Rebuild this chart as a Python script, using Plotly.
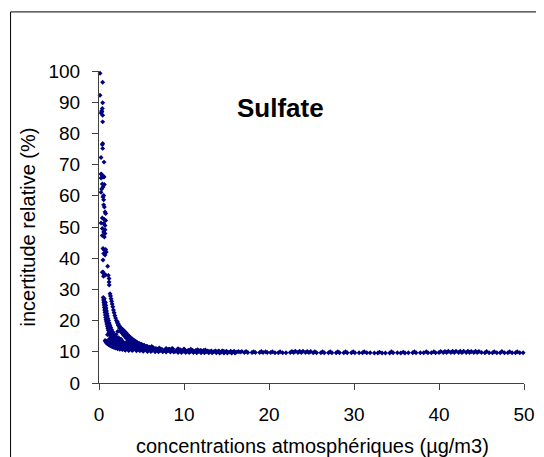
import plotly.graph_objects as go

# ---- data (concentration in µg/m3, relative uncertainty in %) ----
# steep cluster at very low concentrations
low_pts = [(0.12, 99.3), (0.43, 96.4), (0.12, 92.2), (0.43, 89.8), (0.39, 88.0), (0.31, 87.2),
           (0.35, 86.9), (0.24, 86.5), (0.43, 85.8), (0.43, 83.7), (0.43, 76.8), (0.39, 76.4),
           (0.43, 75.2), (0.24, 72.3), (0.59, 70.8), (0.24, 67.0), (0.39, 66.0), (0.59, 66.0),
           (0.31, 66.8), (0.55, 66.2), (0.24, 65.7), (0.39, 63.8), (0.63, 63.6), (0.47, 62.8),
           (0.31, 62.2), (0.24, 61.1), (0.55, 60.1), (0.47, 59.6), (0.55, 58.7), (0.55, 57.1),
           (0.63, 56.4), (0.71, 54.8), (0.78, 54.3), (0.39, 52.9), (0.63, 52.4), (0.78, 52.1),
           (0.24, 51.3), (0.55, 51.1), (0.71, 50.5), (0.39, 49.5), (0.71, 49.1), (0.55, 48.4),
           (0.71, 47.9), (0.39, 47.3), (0.63, 46.8), (0.47, 43.1), (0.63, 42.6), (0.78, 42.8),
           (0.86, 42.0), (0.55, 41.5), (0.71, 41.0), (0.47, 39.4), (1.02, 37.4), (0.47, 35.6),
           (0.39, 35.5), (0.63, 34.9), (0.78, 34.6), (1.10, 34.5), (1.18, 33.5), (1.18, 32.4),
           (1.20, 31.4), (0.53, 34.2)]

# curved branches (several detection limits)
branch_a = [(0.50, 27.4), (0.53, 26.6), (0.56, 25.8), (0.60, 25.0), (0.63, 24.2), (0.66, 23.4),
            (0.70, 22.6), (0.74, 21.8), (0.78, 21.0), (0.82, 20.3), (0.87, 19.6), (0.92, 18.9),
            (0.98, 18.2), (1.04, 17.5), (1.10, 16.9), (1.17, 16.3), (1.25, 15.7), (1.34, 15.1),
            (1.44, 14.6), (1.55, 14.1), (1.67, 13.6), (1.80, 13.2), (1.95, 12.8), (2.10, 12.4),
            (2.28, 12.1), (2.48, 11.8), (2.70, 11.5), (2.95, 11.3), (3.25, 11.1), (3.60, 10.9),
            (4.00, 10.7)]
branch_a2 = [(0.62, 27.0), (0.65, 26.1), (0.68, 25.3), (0.72, 24.5), (0.76, 23.6), (0.80, 22.8),
             (0.85, 22.0), (0.90, 21.2), (0.96, 20.4), (1.02, 19.7), (1.09, 19.0), (1.16, 18.3),
             (1.24, 17.6), (1.33, 16.9), (1.43, 16.3), (1.54, 15.7), (1.66, 15.1), (1.79, 14.6),
             (1.93, 14.1), (2.08, 13.7), (2.25, 13.3), (2.44, 12.9), (2.65, 12.5), (2.88, 12.2),
             (3.14, 11.9), (3.42, 11.6), (3.75, 11.3), (4.10, 11.1), (4.50, 10.9)]
branch_a3 = [(0.75, 25.8), (0.79, 24.9), (0.83, 24.0), (0.88, 23.1), (0.93, 22.3), (0.99, 21.5),
             (1.05, 20.7), (1.12, 20.0), (1.20, 19.2), (1.28, 18.5), (1.38, 17.8), (1.48, 17.1),
             (1.60, 16.4), (1.73, 15.8), (1.87, 15.2), (2.02, 14.6), (2.20, 14.1), (2.40, 13.6),
             (2.62, 13.1), (2.86, 12.7), (3.12, 12.3), (3.42, 11.9), (3.75, 11.6), (4.10, 11.3)]
branch_b = [(1.30, 28.6), (1.36, 27.9), (1.42, 27.0), (1.48, 26.2), (1.55, 25.3), (1.62, 24.4),
            (1.70, 23.4), (1.78, 22.5), (1.86, 21.6), (1.95, 20.8), (2.05, 20.0), (2.16, 19.2),
            (2.28, 18.4), (2.41, 17.6), (2.55, 16.9), (2.70, 16.2), (2.86, 15.5), (3.04, 14.9),
            (3.23, 14.3), (3.44, 13.7), (3.67, 13.2), (3.92, 12.7), (4.20, 12.3), (4.50, 11.9),
            (4.85, 11.5), (5.25, 11.2), (5.70, 10.9)]
branch_c = [(2.16, 19.6), (2.28, 18.9), (2.40, 18.3), (2.52, 17.8), (2.64, 17.5), (2.76, 17.2),
            (2.90, 16.8), (3.05, 16.4), (3.20, 16.0), (3.36, 15.5), (3.52, 15.1), (3.70, 14.6),
            (3.88, 14.2), (4.08, 13.8), (4.30, 13.4), (4.52, 13.0), (4.76, 12.7), (5.02, 12.4),
            (5.30, 12.1), (5.60, 11.8), (5.95, 11.5), (6.30, 11.3), (6.70, 11.1)]
branch_c2 = [(2.50, 16.6), (2.70, 16.0), (2.90, 15.5), (3.10, 15.0), (3.35, 14.5), (3.60, 14.0),
             (3.90, 13.5), (4.20, 13.1), (4.55, 12.7), (4.90, 12.3), (5.30, 12.0), (5.70, 11.7)]
branch_l = [(0.72, 13.6), (0.78, 13.3), (0.85, 13.0), (0.92, 12.8), (1.00, 12.6), (1.10, 12.4),
            (1.20, 12.2), (1.32, 12.0), (1.45, 11.8), (1.60, 11.6), (1.78, 11.4), (1.98, 11.2),
            (2.20, 11.0), (2.45, 10.8), (2.75, 10.7), (3.10, 10.5), (3.50, 10.4)]
branch_l2 = [(0.90, 13.4), (1.00, 13.1), (1.12, 12.9), (1.25, 12.7), (1.40, 12.5), (1.56, 12.3),
             (1.74, 12.1), (1.95, 11.9), (2.20, 11.7), (2.48, 11.5), (2.80, 11.3), (3.15, 11.1),
             (3.55, 10.9)]
scattered = [(1.00, 15.5), (1.20, 14.0), (1.40, 13.3), (1.60, 12.8), (1.90, 13.0), (2.30, 14.5),
             (2.60, 14.0), (2.00, 15.5), (2.20, 16.5), (2.80, 13.3), (3.20, 13.0), (3.00, 12.0),
             (3.50, 12.4), (4.00, 12.0), (4.50, 11.6), (5.00, 11.3), (3.80, 11.8), (5.50, 11.0),
             (6.20, 11.7), (7.00, 10.9), (8.20, 10.8), (9.50, 10.7), (12.0, 10.4), (14.5, 10.3)]

# plateau at higher concentrations
floor_mid = [(4.0, 10.8), (4.5, 10.7), (4.9, 10.7), (5.4, 10.6), (5.8, 10.5), (6.3, 10.5),
             (6.7, 10.4), (7.2, 10.4), (7.6, 10.3), (8.1, 10.3), (8.5, 10.3), (9.0, 10.2),
             (9.4, 10.2), (9.9, 10.2), (10.3, 10.1), (10.8, 10.1), (11.2, 10.1), (11.7, 10.1),
             (12.1, 10.0), (12.6, 10.0), (13.0, 10.0), (13.5, 10.0), (13.9, 10.0), (14.4, 9.9),
             (14.8, 10.0), (15.3, 9.9), (15.7, 9.9), (16.2, 9.9), (16.6, 9.9), (17.1, 9.8),
             (17.5, 9.8), (18.0, 9.8), (18.4, 9.8), (18.9, 9.8), (19.3, 9.8), (19.8, 9.8),
             (20.2, 9.8), (20.7, 9.7), (21.1, 9.7), (21.6, 9.7), (22.0, 9.7), (22.5, 9.8),
             (22.9, 9.8), (23.4, 9.8), (23.8, 9.8), (24.3, 9.8), (24.7, 9.8), (25.2, 9.7),
             (25.6, 9.7), (26.1, 9.7), (26.5, 9.7), (27.0, 9.7), (27.4, 9.7), (27.9, 9.7),
             (28.3, 9.7), (28.8, 9.7), (29.2, 9.7), (29.7, 9.7), (30.1, 9.7), (30.6, 9.7),
             (31.0, 9.7), (31.5, 9.7), (31.9, 9.7), (32.4, 9.6), (32.8, 9.6), (33.3, 9.6),
             (33.7, 9.6), (34.2, 9.6), (34.6, 9.7), (35.1, 9.7), (35.5, 9.6), (36.0, 9.6),
             (36.4, 9.7), (36.9, 9.7), (37.3, 9.7), (37.8, 9.7), (38.2, 9.7), (38.7, 9.7),
             (39.1, 9.7), (39.6, 9.7), (40.0, 9.8), (40.5, 9.8), (40.9, 9.8), (41.4, 9.8),
             (41.8, 9.8), (42.3, 9.8), (42.7, 9.8), (43.2, 9.8), (43.6, 9.8), (44.1, 9.8),
             (44.5, 9.8), (45.0, 9.8), (45.4, 9.7), (45.9, 9.7), (46.3, 9.7), (46.8, 9.7),
             (47.2, 9.7), (47.7, 9.7), (48.1, 9.7), (48.6, 9.7), (49.0, 9.7), (49.5, 9.7),
             (49.9, 9.7)]
floor_hi = [(4.2, 11.2), (4.7, 11.1), (5.1, 11.1), (5.6, 11.0), (6.0, 10.9), (6.5, 10.9),
            (6.9, 10.8), (7.4, 10.8), (7.8, 10.7), (8.3, 10.8), (8.7, 10.9), (9.2, 10.7),
            (9.6, 10.6), (10.1, 10.6), (10.5, 10.5), (11.0, 10.5), (11.4, 10.4), (11.9, 10.4),
            (12.3, 10.4), (12.8, 10.3), (13.2, 10.3), (13.7, 10.3), (14.1, 10.3), (14.6, 10.2),
            (15.0, 10.2), (15.5, 10.2), (15.9, 10.2), (16.4, 10.1), (16.8, 10.1), (17.3, 10.1),
            (18.2, 10.0), (19.1, 10.1), (19.6, 10.0), (20.4, 10.0), (21.3, 10.0), (22.7, 10.1),
            (23.1, 10.2), (23.6, 10.2), (24.0, 10.2), (24.5, 10.1), (24.9, 10.1), (25.4, 10.0),
            (26.3, 10.0), (27.2, 10.0), (28.1, 10.0), (29.0, 10.0), (29.9, 10.0), (31.2, 10.0),
            (33.0, 9.9), (34.4, 10.0), (35.8, 9.9), (37.1, 10.0), (38.5, 10.0), (39.4, 10.0),
            (40.2, 10.1), (40.7, 10.1), (41.1, 10.2), (41.6, 10.2), (42.0, 10.2), (42.5, 10.2),
            (42.9, 10.2), (43.4, 10.2), (43.8, 10.1), (44.3, 10.2), (44.7, 10.1), (45.6, 10.1),
            (46.5, 10.0), (47.4, 10.1), (48.3, 10.0), (49.2, 10.0)]
floor_top = [(4.4, 11.6), (5.0, 11.5), (5.7, 11.4), (6.4, 11.3), (7.1, 11.2), (7.9, 11.1),
             (8.6, 11.1), (9.3, 11.0), (10.0, 10.9), (10.8, 10.8), (11.6, 10.7), (12.5, 10.6)]
floor_lo = [(3.0, 10.7), (3.5, 10.6), (3.9, 10.4), (4.4, 10.3), (4.8, 10.3), (5.2, 10.2),
            (5.7, 10.1), (6.1, 10.1), (6.6, 10.0), (7.0, 10.0), (7.5, 10.0), (7.9, 9.9),
            (8.4, 9.9), (8.8, 9.9), (9.3, 9.8), (9.7, 9.8), (10.2, 9.8), (10.6, 9.8),
            (11.1, 9.8), (11.5, 9.7), (12.0, 9.7), (12.4, 9.7), (12.9, 9.7), (13.3, 9.7),
            (13.8, 9.7), (14.2, 9.6), (14.7, 9.6), (15.1, 9.6), (15.6, 9.6), (16.0, 9.6)]

groups = [low_pts, branch_a, branch_a2, branch_a3, branch_b, branch_c, branch_c2, branch_l,
          branch_l2, scattered, floor_mid, floor_hi, floor_top, floor_lo]
conc = [p[0] for g in groups for p in g]
unc = [p[1] for g in groups for p in g]

x_ticks = [0, 10, 20, 30, 40, 50]
y_ticks = [0, 10, 20, 30, 40, 50, 60, 70, 80, 90, 100]

NAVY = "#000080"
FONT = "Liberation Sans, Arial, sans-serif"

fig = go.Figure()
fig.add_trace(go.Scatter(
    x=conc, y=unc, mode="markers",
    marker=dict(symbol="diamond", size=3.8, color=NAVY, line=dict(width=0)),
    cliponaxis=False, showlegend=False, hoverinfo="x+y"))

# the page body adds an 8 px offset; figure coordinates are window coordinates minus OFF
OFF = 8
W, H = 544 - OFF, 457 - OFF
L = 99 - OFF
T = 70.7 - OFF
R = W - (524.3 - OFF)
B = H - (383.3 - OFF)
pw, ph = W - L - R, H - T - B

def px(xp):
    return (xp - OFF - L) / pw

def py(yp):
    return (H - B - (yp - OFF)) / ph

axis_common = dict(showline=True, linecolor="#404040", linewidth=1, ticks="outside",
                   ticklen=6, tickwidth=1, tickcolor="#404040", showgrid=False,
                   zeroline=False, ticklabelstandoff=8,
                   tickfont=dict(family=FONT, size=19, color="#000000"))

fig.update_layout(
    width=W, height=H,
    margin=dict(l=L, r=R, t=T, b=B, pad=0, autoexpand=False),
    paper_bgcolor="white", plot_bgcolor="white",
    xaxis=dict(range=[0, 50], tickvals=x_ticks, ticktext=[str(v) for v in x_ticks], **axis_common),
    yaxis=dict(range=[0, 100], tickvals=y_ticks, ticktext=[str(v) for v in y_ticks], **axis_common),
    annotations=[
        dict(text="<b>Sulfate</b>", xref="paper", yref="paper", x=px(280.7), y=py(108),
             xanchor="center", yanchor="middle", showarrow=False,
             font=dict(family=FONT, size=26, color="#000000")),
        dict(text="concentrations atmosphériques (µg/m3)", xref="paper", yref="paper",
             x=px(312.6), y=py(446), xanchor="center", yanchor="middle", showarrow=False,
             font=dict(family=FONT, size=20, color="#000000")),
        dict(text="incertitude relative (%)", xref="paper", yref="paper", textangle=-90,
             x=px(27.8), y=py(226.7), xanchor="center", yanchor="middle", showarrow=False,
             font=dict(family=FONT, size=20, color="#000000")),
    ],
    shapes=[dict(type="rect", xref="paper", yref="paper",
                 x0=px(10.5), y0=py(11.5), x1=px(570), y1=py(480),
                 line=dict(color="#000000", width=1), fillcolor="rgba(0,0,0,0)", layer="below")],
)

fig.write_html("out.html")
